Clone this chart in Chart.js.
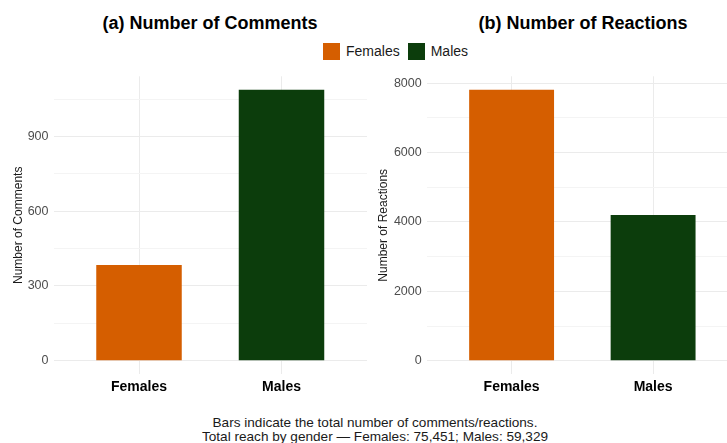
<!DOCTYPE html>
<html>
<head>
<meta charset="utf-8">
<script src="https://cdn.jsdelivr.net/npm/chart.js@4"></script>
<style>
  html, body { margin: 0; padding: 0; background: #fff; overflow: hidden; }
  #wrap { position: relative; width: 727px; height: 443px; overflow: hidden; font-family: 'Liberation Sans', Arial, sans-serif; }
  .titulo { position: absolute; top: 14px; font-size: 18px; line-height: 18px; font-weight: bold; color: #000; text-align: center; white-space: nowrap; transform: translateX(-50%); }
  #leyenda { position: absolute; left: 323px; top: 43px; display: flex; align-items: center; font-size: 14px; line-height: 17px; color: #1a1a1a; }
  #leyenda .caja { width: 17px; height: 17px; margin-right: 6px; }
  #leyenda span.txt { margin-right: 8px; }
  #pie { position: absolute; left: 375px; top: 416px; transform: translateX(-50%); font-size: 13.6px; line-height: 14px; color: #1a1a1a; text-align: center; white-space: nowrap; }
  .panel { position: absolute; top: 0; }
</style>
</head>
<body>
<div id="wrap">
  <div class="titulo" style="left:210px">(a) Number of Comments</div>
  <div class="titulo" style="left:583px">(b) Number of Reactions</div>
  <div id="leyenda"></div>
  <div class="panel" style="left:0px"><canvas id="comentariosChart" width="370" height="400"></canvas></div>
  <div class="panel" style="left:370px"><canvas id="reaccionesChart" width="372" height="400"></canvas></div>
  <div id="pie">Bars indicate the total number of comments/reactions.<br>Total reach by gender — Females: 75,451; Males: 59,329</div>
</div>
<script>
// Datos
const generos = ['Females', 'Males'];
const comentarios = [384, 1087];
const reacciones = [7808, 4203];
const ticksComentarios = [0, 300, 600, 900];
const ticksReacciones = [0, 2000, 4000, 6000, 8000];
const colores = ['#D55E00', '#0C3D0C'];

Chart.defaults.font.family = "'Liberation Sans', Arial, sans-serif";

// Leyenda compartida
const leyenda = document.getElementById('leyenda');
generos.forEach((g, i) => {
  const caja = document.createElement('span');
  caja.className = 'caja';
  caja.style.background = colores[i];
  const txt = document.createElement('span');
  txt.className = 'txt';
  txt.textContent = g;
  leyenda.appendChild(caja);
  leyenda.appendChild(txt);
});

function crearPanel(id, valores, ticksMayores, tituloY, anchoY, paddingTitulo, paddingDer) {
  const maximo = Math.max(...valores);
  const paso = ticksMayores[1] - ticksMayores[0];
  const limiteSup = maximo * 1.05;
  const limiteInf = -maximo * 0.05;
  // ticks mayores y menores (a mitad de camino)
  const todos = [];
  for (let v = ticksMayores[0]; v <= limiteSup; v += paso / 2) todos.push(v);
  const esMayor = v => ticksMayores.includes(v);

  return new Chart(document.getElementById(id), {
    type: 'bar',
    data: {
      datasets: [{
        data: generos.map((g, i) => ({ x: i + 1, y: valores[i] })),
        backgroundColor: colores,
        borderWidth: 0,
        barPercentage: 0.6,
        categoryPercentage: 1
      }]
    },
    options: {
      responsive: false,
      animation: false,
      layout: { padding: { top: 76.3, right: paddingDer, left: 0, bottom: 0 } },
      plugins: { legend: { display: false }, tooltip: { enabled: false } },
      scales: {
        x: {
          type: 'linear',
          min: 0.4,
          max: 2.6,
          offset: false,
          afterBuildTicks: scale => { scale.ticks = generos.map((g, i) => ({ value: i + 1 })); },
          afterFit: scale => { scale.height = 25.7; },
          ticks: {
            callback: v => generos[v - 1],
            font: { size: 14, weight: 'bold' },
            color: '#000',
            padding: 4,
            maxRotation: 0
          },
          grid: { color: '#ebebeb', lineWidth: 1, drawTicks: false, offset: false },
          border: { display: false }
        },
        y: {
          min: limiteInf,
          max: limiteSup,
          afterBuildTicks: scale => { scale.ticks = todos.map(v => ({ value: v })); },
          afterFit: scale => { scale.width = anchoY; },
          ticks: {
            callback: v => (esMayor(v) ? String(v) : ''),
            font: { size: 12.5 },
            color: '#4d4d4d',
            padding: 5
          },
          grid: {
            color: ctx => (esMayor(ctx.tick.value) ? '#ebebeb' : '#f4f4f4'),
            lineWidth: 1,
            drawTicks: false
          },
          border: { display: false },
          title: {
            display: true,
            text: tituloY,
            font: { size: 12 },
            color: '#1a1a1a',
            padding: { top: paddingTitulo, bottom: 0 }
          }
        }
      }
    }
  });
}

crearPanel('comentariosChart', comentarios, ticksComentarios, 'Number of Comments', 53.5, 11, 3);
crearPanel('reaccionesChart', reacciones, ticksReacciones, 'Number of Reactions', 56.7, 6, 4);
</script>
</body>
</html>
